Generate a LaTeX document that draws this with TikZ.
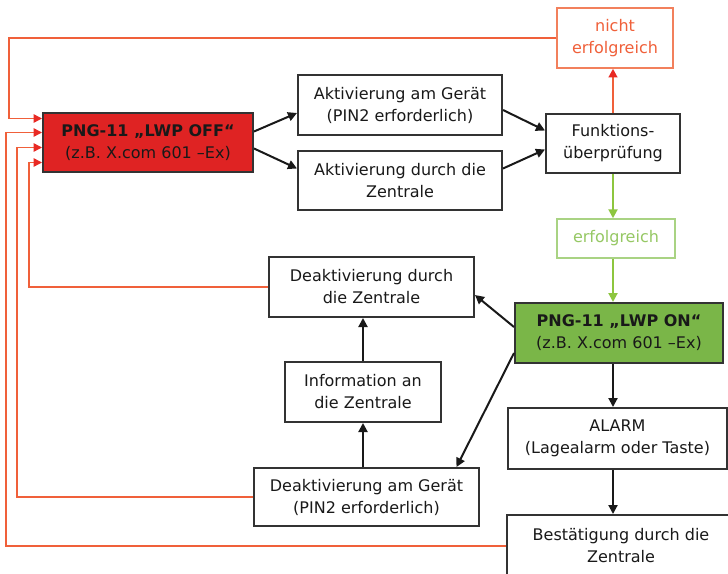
\documentclass[tikz,border=0pt]{standalone}
\usepackage{fontspec}
\setmainfont{DejaVu Sans}
\usetikzlibrary{arrows.meta}
\definecolor{boxline}{HTML}{333333}
\definecolor{offred}{HTML}{DF2323}
\definecolor{ongreen}{HTML}{7AB648}
\definecolor{fbline}{HTML}{F0603A}
\definecolor{fbtip}{HTML}{E82A24}
\definecolor{fbbox}{HTML}{F2805C}
\definecolor{okline}{HTML}{8DC63F}
\definecolor{okbox}{HTML}{A9D383}
\definecolor{oktext}{HTML}{96C864}
\tikzset{
  stepbox/.style={draw=boxline, line width=2pt, fill=white, align=center,
    inner sep=0pt, font=\fontsize{16}{22}\selectfont, text=black!90},
  flow/.style={draw=black!90, line width=2pt, -{Triangle[length=9pt,width=9pt]}},
  fb/.style={draw=fbline, line width=1.5pt, -{Triangle[length=8.5pt,width=8.5pt,color=fbtip]}},
  ok/.style={draw=okline, line width=2pt, -{Triangle[length=9pt,width=9pt]}}
}
\begin{document}
\begin{tikzpicture}[x=1pt,y=-1pt]
\useasboundingbox (0,0) rectangle (728,573);
\clip (0,0) rectangle (728,573);
\fill[white] (0,0) rectangle (728,573);

% boxes
\node[stepbox, fill=offred, minimum width=210pt, minimum height=59pt] (off) at (148,142.5)
  {\textbf{PNG-11 „LWP OFF“}\\(z.B. X.com 601 –Ex)};
\node[stepbox, minimum width=204pt, minimum height=60pt] (akt1) at (400,105)
  {Aktivierung am Gerät\\(PIN2 erforderlich)};
\node[stepbox, minimum width=204pt, minimum height=59pt] (akt2) at (400,180.5)
  {Aktivierung durch die\\Zentrale};
\node[stepbox, minimum width=134pt, minimum height=59pt] (funk) at (613,143.5)
  {Funktions-\\überprüfung};
\node[stepbox, draw=fbbox, line width=1.5pt, text=fbline, minimum width=116pt, minimum height=60pt] (nicht) at (615,38)
  {nicht\\erfolgreich};
\node[stepbox, draw=okbox, line width=1.5pt, text=oktext, minimum width=118pt, minimum height=39pt] (erf) at (616,238.5)
  {erfolgreich};
\node[stepbox, fill=ongreen, minimum width=208pt, minimum height=60pt] (on) at (619,333)
  {\textbf{PNG-11 „LWP ON“}\\(z.B. X.com 601 –Ex)};
\node[stepbox, minimum width=205pt, minimum height=60pt] (deakz) at (371.5,287)
  {Deaktivierung durch\\die Zentrale};
\node[stepbox, minimum width=156pt, minimum height=60pt] (info) at (363,392)
  {Information an\\die Zentrale};
\node[stepbox, minimum width=225pt, minimum height=58pt] (deakg) at (366.5,497)
  {Deaktivierung am Gerät\\(PIN2 erforderlich)};
\node[stepbox, minimum width=219pt, minimum height=61pt] (alarm) at (617.5,438.5)
  {ALARM\\(Lagealarm oder Taste)};
\node[stepbox, minimum width=228pt, minimum height=62pt] (best) at (621,546)
  {Bestätigung durch die\\Zentrale};

% main flow
\draw[flow] ([yshift=11pt]off.east) -- ([yshift=-8pt]akt1.west);
\draw[flow] ([yshift=-6pt]off.east) -- ([yshift=12pt]akt2.west);
\draw[flow] ([yshift=-5pt]akt1.east) -- ([yshift=13pt]funk.west);
\draw[flow] ([yshift=12pt]akt2.east) -- ([yshift=-6pt]funk.west);
\draw[fb, line width=2pt] (funk.north) -- (funk.north |- nicht.south);
\draw[ok] (funk.south) -- (funk.south |- erf.north);
\draw[ok] (funk.south |- erf.south) -- (funk.south |- on.north);
\draw[flow] ([yshift=6pt]on.west) -- ([yshift=-8pt]deakz.east);
\draw[flow] ([yshift=-20pt]on.west) -- ([xshift=90pt]deakg.north);
\draw[flow] (funk.south |- on.south) -- (funk.south |- alarm.north);
\draw[flow] (funk.south |- alarm.south) -- (funk.south |- best.north);
\draw[flow] (info.north) -- (info.north |- deakz.south);
\draw[flow] (info.south |- deakg.north) -- (info.south);

% feedback lines back to the OFF state
\draw[fb] (nicht.west) -| ([xshift=-33pt,yshift=24pt]off.west) -- ([yshift=24pt]off.west);
\draw[fb] (best.west) -| ([xshift=-36pt,yshift=10pt]off.west) -- ([yshift=10pt]off.west);
\draw[fb] (deakg.west) -| ([xshift=-25pt,yshift=-5pt]off.west) -- ([yshift=-5pt]off.west);
\draw[fb] (deakz.west) -| ([xshift=-13pt,yshift=-20pt]off.west) -- ([yshift=-20pt]off.west);
\end{tikzpicture}
\end{document}
